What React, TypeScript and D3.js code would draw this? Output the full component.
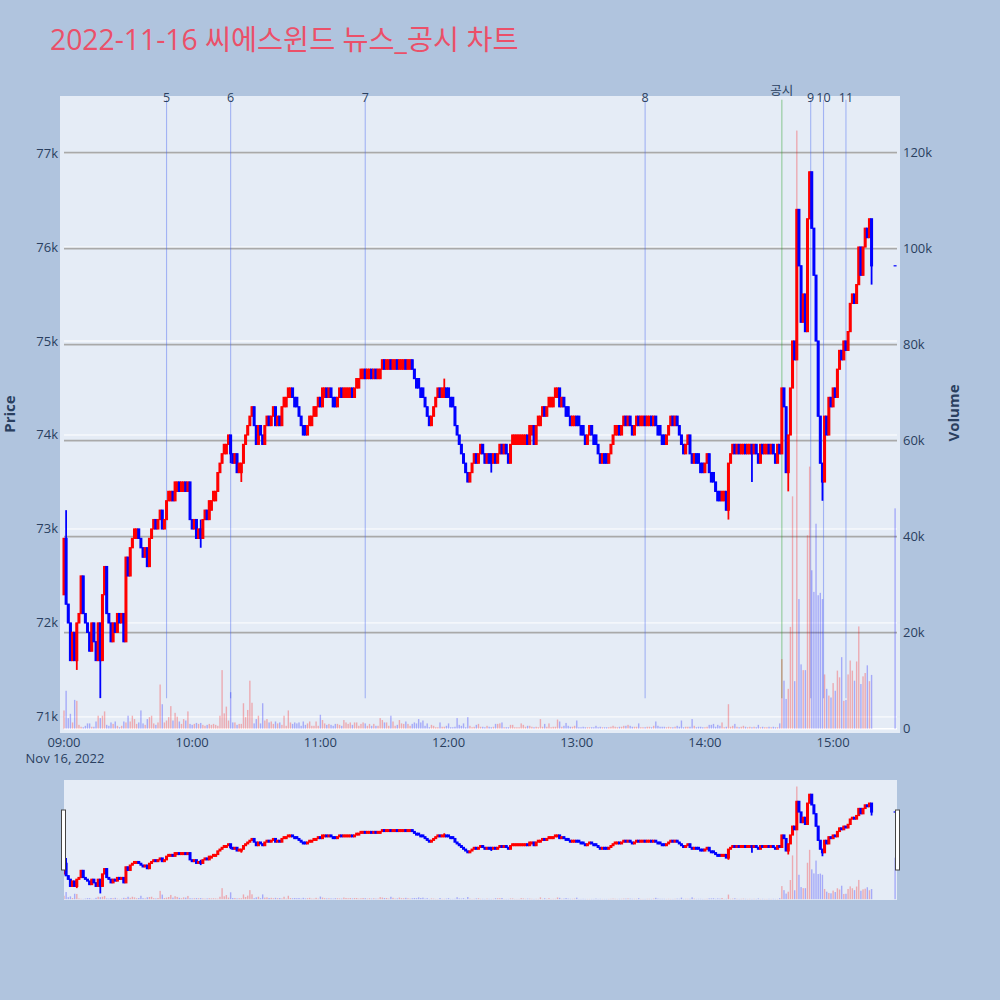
import React from "react";
import * as d3 from "d3";

const TITLE = "2022-11-16 씨에스윈드 뉴스_공시 차트";
const FIRST_OPEN = 723; // hundreds of KRW

// per-minute closes from 09:00 (hundreds of KRW)
const closes = [
  729, 722, 720, 716, 719, 716, 720, 721, 725, 721,
  720, 719, 717, 720, 718, 716, 720, 716, 723, 726,
  721, 720, 718, 720, 719, 721, 720, 721, 718, 727,
  725, 728, 729, 730, 730, 729, 728, 727, 728, 726,
  729, 730, 731, 730, 731, 732, 730, 731, 733, 734,
  734, 733, 735, 735, 734, 735, 735, 734, 735, 731,
  730, 731, 729, 730, 729, 731, 732, 731, 733, 733,
  734, 734, 736, 737, 738, 739, 739, 740, 738, 737,
  738, 736, 737, 737, 739, 740, 741, 742, 743, 741,
  739, 741, 740, 739, 741, 742, 741, 742, 743, 741,
  742, 741, 743, 744, 744, 745, 745, 744, 743, 743,
  742, 741, 740, 740, 741, 742, 742, 743, 743, 744,
  743, 745, 745, 744, 745, 744, 743, 743, 744, 745,
  744, 745, 745, 745, 745, 744, 745, 746, 746, 747,
  747, 746, 747, 747, 746, 747, 746, 747, 747, 748,
  747, 748, 748, 747, 748, 748, 747, 748, 748, 748,
  747, 748, 748, 747, 746, 745, 745, 744, 744, 743,
  742, 741, 742, 743, 744, 745, 744, 745, 745, 744,
  744, 743, 743, 741, 740, 739, 738, 737, 736, 735,
  736, 737, 738, 737, 738, 739, 738, 737, 738, 737,
  737, 738, 737, 738, 739, 738, 739, 738, 737, 739,
  740, 740, 740, 740, 740, 740, 740, 739, 741, 741,
  739, 741, 742, 742, 743, 742, 743, 744, 744, 744,
  745, 745, 743, 744, 743, 742, 742, 741, 742, 742,
  741, 741, 740, 740, 739, 740, 741, 740, 739, 739,
  738, 737, 738, 737, 737, 738, 739, 740, 741, 741,
  740, 741, 742, 741, 742, 741, 740, 741, 742, 741,
  742, 742, 741, 742, 742, 741, 742, 741, 740, 740,
  739, 739, 740, 741, 742, 741, 742, 741, 740, 739,
  738, 739, 740, 738, 737, 738, 737, 737, 736, 736,
  737, 738, 736, 735, 735, 734, 733, 733, 734, 734,
  732, 737, 738, 739, 738, 739, 738, 739, 739, 738,
  739, 739, 738, 739, 738, 737, 739, 738, 739, 739,
  738, 739, 738, 737, 739, 738, 745, 743, 736, 740,
  745, 750, 748, 764, 758, 752, 755, 751, 763, 768,
  762, 757, 750, 742, 737, 735, 742, 740, 744, 743,
  745, 744, 747, 749, 748, 750, 749, 751, 754, 755,
  754, 756, 760, 757, 760, 762, 761, 763, 758,
];

// minutes whose open differs from the previous close: [minute index, open]
const openOverrides: [number, number][] = [
  [34, 729], [50, 733], [53, 734], [56, 734], [69, 732], [71, 733], [76, 738], [83, 736],
  [104, 743], [106, 744], [109, 744], [113, 741], [116, 741], [118, 742], [122, 744], [127, 744],
  [132, 744], [133, 744], [134, 744], [138, 745], [140, 746], [143, 746], [148, 746],
  [152, 747], [155, 747], [158, 747], [159, 747], [162, 747], [166, 746], [168, 745],
  [178, 744], [180, 745], [182, 744], [200, 738],
  [211, 739], [212, 739], [213, 739], [214, 739], [215, 739], [216, 739], [219, 740],
  [223, 741], [228, 743], [229, 743], [231, 744], [236, 743], [239, 741], [241, 742],
  [243, 741], [249, 740], [254, 738], [259, 740], [271, 741], [274, 741], [279, 741],
  [281, 740], [297, 738], [299, 737], [304, 736], [307, 734], [309, 733], [318, 738],
  [320, 738], [321, 738], [329, 738],
];

// [minute index, high, low] where the wick reaches past the body (hundreds of KRW)
const wicks: [number, number, number][] = [
  [1, 732, 722], [6, 720, 715], [17, 720, 712], [64, 731, 728], [78, 740, 737],
  [83, 737, 735], [178, 746, 744], [200, 738, 736], [311, 737, 731], [322, 739, 735],
  [339, 740, 734], [343, 764, 748], [355, 737, 733], [378, 763, 756],
];

// per-minute volume from 09:00 (thousands of shares)
const volumes = [
  3.8, 7.9, 2.2, 3.1, 1.3, 6.0, 5.8, 0.8, 0.4, 0.3,
  0.6, 1.1, 1.1, 0.4, 0.4, 1.5, 2.7, 2.2, 2.7, 3.6,
  0.8, 0.6, 1.3, 1.0, 1.5, 0.6, 0.3, 0.6, 1.5, 1.3,
  2.7, 1.5, 2.7, 2.0, 1.0, 1.3, 3.8, 1.1, 0.8, 2.0,
  2.4, 2.7, 1.1, 0.8, 1.3, 9.2, 5.1, 1.3, 1.7, 2.4,
  4.7, 1.7, 3.3, 2.5, 1.5, 1.0, 2.0, 1.7, 3.6, 1.0,
  0.8, 1.0, 1.2, 1.0, 1.2, 0.8, 0.6, 0.8, 1.0, 0.8,
  1.0, 0.8, 0.6, 2.7, 12.2, 3.2, 4.6, 1.7, 7.6, 1.3,
  1.3, 0.8, 1.0, 1.0, 5.3, 2.4, 3.9, 10.0, 5.4, 1.1,
  2.0, 2.7, 1.1, 5.3, 1.7, 2.0, 1.3, 1.5, 1.0, 1.5,
  1.1, 1.3, 0.8, 2.7, 0.6, 3.8, 1.3, 1.0, 1.3, 1.1,
  1.3, 0.6, 1.5, 0.8, 1.1, 1.5, 0.6, 0.6, 1.5, 0.6,
  2.9, 1.8, 1.1, 0.8, 1.0, 0.8, 0.6, 1.0, 1.0, 0.8,
  0.6, 1.8, 1.3, 1.0, 1.3, 0.8, 1.3, 1.3, 0.6, 1.0,
  1.3, 1.1, 0.6, 1.0, 0.6, 1.0, 0.6, 0.6, 2.2, 1.8,
  1.3, 1.3, 0.6, 2.7, 1.5, 0.6, 0.8, 1.8, 1.1, 1.0,
  1.5, 1.0, 0.6, 1.0, 1.3, 1.1, 2.0,
  1.3, 1.7, 0.6, 1.1, 0.3, 0.8, 0.6, 0.3, 0.3, 1.3,
  0.4, 0.4, 0.6, 1.1, 0.3, 0.3, 0.4, 2.2, 0.8, 0.6,
  1.1, 0.3, 2.4, 0.6, 0.3, 0.4, 0.8, 1.0, 0.4, 0.4,
  0.3, 0.6, 0.4, 0.3, 0.4, 1.0, 1.0, 1.1, 1.3, 0.3,
  0.3, 0.3, 0.8, 0.8, 0.3, 0.3, 0.3, 1.1, 0.8, 0.4,
  0.6, 0.6, 0.4, 0.3, 0.4, 0.3, 2.0, 0.4, 1.0, 0.4,
  1.1, 0.3, 0.4, 0.4, 1.9, 1.5, 0.4, 0.6, 1.2, 0.6,
  0.4, 0.4, 0.6, 1.7, 0.3, 0.3, 0.4, 0.3, 0.3, 0.3,
  0.3, 0.3, 0.6, 0.3, 0.4, 0.3, 0.3, 0.3, 0.3, 0.4,
  0.6, 0.4, 0.3, 0.4, 0.4, 0.6, 0.6, 0.8, 0.6, 0.4,
  0.4, 0.4, 1.1, 0.3, 0.3, 0.3, 0.4, 0.4, 0.3, 0.6,
  1.5, 0.6, 0.4, 0.4, 0.4, 0.3, 0.4, 0.3, 0.3, 0.4,
  0.6, 0.4, 1.7, 0.3, 0.4, 0.4, 0.4, 2.0, 0.6, 0.3,
  0.4, 0.4, 0.3, 0.3, 0.4, 0.8, 0.8, 1.0, 0.4, 0.8,
  0.6, 1.3, 0.3, 0.4, 5.1, 0.4, 0.6, 1.0, 0.4, 0.3,
  0.4, 0.6, 0.4, 0.3, 0.4, 0.3, 0.4, 0.3, 0.8, 0.3,
  0.4, 0.3, 0.3, 0.4, 0.3, 0.4, 0.3, 0.3, 1.1,
  14.5, 10.0, 6.2, 8.3, 21.2, 48.4, 9.9, 124.6, 27.0, 13.4,
  12.2, 12.2, 40.3, 54.6, 33.0, 28.5, 42.7, 27.8, 28.3, 27.0,
  11.3, 8.3, 6.9, 6.5, 9.5, 7.9, 12.1, 10.7, 14.9, 5.8,
  6.0, 11.3, 14.2, 12.1, 10.0, 14.0, 21.3, 9.3, 10.9, 11.6,
  13.2, 9.9, 11.2,
];

// closing auction print
const auctionTime = "15:29";
const auctionPrice = 758;
const auctionVolume = 45.9;

// news / disclosure markers
const eventLabels = ["5", "6", "7", "8", "공시", "9", "10", "11"];
const eventTimes = ["09:48", "10:18", "11:21", "13:32", "14:36", "14:49:30", "14:55:30", "15:06"];
const eventKinds = ["news", "news", "news", "news", "disclosure", "news", "news", "news"];

const priceTicks = [71000, 72000, 73000, 74000, 75000, 76000, 77000];
const volumeTicks = [0, 20000, 40000, 60000, 80000, 100000, 120000];
const timeTicks = ["09:00", "10:00", "11:00", "12:00", "13:00", "14:00", "15:00"];
const dateLabel = "Nov 16, 2022";

const FONT = '"Open Sans", "Noto Sans CJK KR", "Noto Sans", sans-serif';
const TEXT = "#2a3f5f";

function at(hms: string) {
  const [h, m, s] = hms.split(":").map(Number);
  return new Date(2022, 10, 16, h, m, s || 0);
}

type Candle = { t: Date; o: number; h: number; l: number; c: number; v: number; up: boolean };

function buildCandles(): Candle[] {
  const out: Candle[] = [];
  let prevUp = true;
  closes.forEach((c, i) => {
    const ov = openOverrides.find((k) => k[0] === i);
    const o = ov ? ov[1] : i === 0 ? FIRST_OPEN : closes[i - 1];
    let h = Math.max(o, c);
    let l = Math.min(o, c);
    const w = wicks.find((k) => k[0] === i);
    if (w) {
      h = Math.max(h, w[1]);
      l = Math.min(l, w[2]);
    }
    const up = c > o ? true : c < o ? false : prevUp;
    prevUp = up;
    out.push({ t: new Date(2022, 10, 16, 9, i), o: o * 100, h: h * 100, l: l * 100, c: c * 100, v: volumes[i] * 1000, up });
  });
  out.push({
    t: at(auctionTime), o: auctionPrice * 100, h: auctionPrice * 100, l: auctionPrice * 100,
    c: auctionPrice * 100, v: auctionVolume * 1000, up: false,
  });
  return out;
}

const fmtK = (v: number) => (v === 0 ? "0" : `${v / 1000}k`);

export default function App() {
  const plot = { left: 60, right: 900, top: 96, bottom: 733 };
  const lineL = 64;
  const lineR = 897;
  const sl = { left: 64, right: 897, top: 780, bottom: 900 };

  const candles = buildCandles();

  const x = d3.scaleTime().domain([at("08:58:08"), at("15:31:18")]).range([plot.left, plot.right]);
  const pDomain: [number, number] = [70829, 77607];
  const vDomain: [number, number] = [-900, 131800];
  const yP = d3.scaleLinear().domain(pDomain).range([plot.bottom, plot.top]);
  const yV = d3.scaleLinear().domain(vDomain).range([plot.bottom, plot.top]);
  const yPs = d3.scaleLinear().domain(pDomain).range([sl.bottom, sl.top]);
  const yVs = d3.scaleLinear().domain(vDomain).range([sl.bottom, sl.top]);

  const maxHigh = d3.max(candles, (d) => d.h) as number;
  const minLow = d3.min(candles, (d) => d.l) as number;
  const evTop = yP(maxHigh * 1.01);
  const evBottom = yP(minLow);

  const upCol = "#ff0000";
  const dnCol = "#0000ff";
  const upVol = "rgba(255,0,0,0.28)";
  const dnVol = "rgba(0,0,255,0.28)";

  const bodyW = 1.8;
  const barW = 1.4;

  const drawCandles = (yS: d3.ScaleLinear<number, number>, key: string) =>
    candles.map((d, i) => {
      const cx = x(d.t);
      const col = d.up ? upCol : dnCol;
      const top = yS(Math.max(d.o, d.c));
      const bot = yS(Math.min(d.o, d.c));
      return (
        <g key={key + i}>
          <line x1={cx} x2={cx} y1={yS(d.h)} y2={yS(d.l)} stroke={col} strokeWidth={1.8} />
          <rect x={cx - bodyW / 2} width={bodyW} y={top} height={Math.max(0.01, bot - top)}
            fill={col} stroke={col} strokeWidth={1.2} />
        </g>
      );
    });

  return (
    <div style={{ position: "absolute", left: 0, top: 0, width: 1000, height: 1000 }}>
      <svg width={1000} height={1000} style={{ display: "block", fontFamily: FONT }}>
        <defs>
          <clipPath id="plotClip">
            <rect x={plot.left} y={plot.top} width={plot.right - plot.left} height={plot.bottom - plot.top} />
          </clipPath>
          <clipPath id="sliderClip">
            <rect x={sl.left} y={sl.top} width={sl.right - sl.left} height={sl.bottom - sl.top} />
          </clipPath>
        </defs>
        <rect x={0} y={0} width={1000} height={1000} fill="#b0c4de" />
        <text x={50} y={50} fontSize={28.3} fill="#eb5069">{TITLE}</text>

        {/* main plot */}
        <rect x={plot.left} y={plot.top} width={plot.right - plot.left} height={plot.bottom - plot.top} fill="#e5ecf6" />
        {priceTicks.map((p) => (
          <line key={"pg" + p} x1={lineL} x2={lineR} y1={yP(p)} y2={yP(p)} stroke="#ffffff" strokeWidth={1} />
        ))}
        <line x1={lineL} x2={lineR} y1={yV(0)} y2={yV(0)} stroke="#ffffff" strokeWidth={1.5} />
        {volumeTicks.filter((v) => v > 0).map((v) => (
          <line key={"vg" + v} x1={lineL} x2={lineR} y1={yV(v)} y2={yV(v)} stroke="#a9a9a9" strokeWidth={1.6} />
        ))}

        {eventTimes.map((tm, i) => {
          const ex = x(at(tm));
          const disc = eventKinds[i] === "disclosure";
          return (
            <g key={"ev" + i}>
              <line x1={ex} x2={ex} y1={evTop} y2={evBottom}
                stroke={disc ? "rgba(40,160,40,0.45)" : "rgba(70,100,240,0.42)"} strokeWidth={1.1} />
              <text x={ex} y={disc ? evTop - 5 : evTop + 2.5} fontSize={12.5} fill={TEXT} textAnchor="middle">
                {eventLabels[i]}
              </text>
            </g>
          );
        })}

        <g clipPath="url(#plotClip)">
          {candles.map((d, i) => (
            <rect key={"v" + i} x={x(d.t) - barW / 2} width={barW} y={yV(d.v)} height={Math.max(0, yV(0) - yV(d.v))}
              fill={d.up ? upVol : dnVol} />
          ))}
          {drawCandles(yP, "c")}
        </g>

        {/* axes labels */}
        {priceTicks.map((p) => (
          <text key={"pt" + p} x={58} y={yP(p) + 4.5} fontSize={13} fill={TEXT} textAnchor="end">{fmtK(p)}</text>
        ))}
        {volumeTicks.map((v) => (
          <text key={"vt" + v} x={903} y={yV(v) + 4.5} fontSize={13} fill={TEXT} textAnchor="start">{fmtK(v)}</text>
        ))}
        {timeTicks.map((tk) => (
          <text key={"tt" + tk} x={x(at(tk))} y={747} fontSize={13} fill={TEXT} textAnchor="middle">{tk}</text>
        ))}
        <text x={x(at(timeTicks[0])) + 1} y={763} fontSize={13} fill={TEXT} textAnchor="middle">{dateLabel}</text>
        <text transform="translate(15,414) rotate(-90)" fontSize={15} fontWeight="bold" fill={TEXT} textAnchor="middle">Price</text>
        <text transform="translate(959,413) rotate(-90)" fontSize={15} fontWeight="bold" fill={TEXT} textAnchor="middle">Volume</text>

        {/* range slider */}
        <rect x={sl.left} y={sl.top} width={sl.right - sl.left} height={sl.bottom - sl.top} fill="#e5ecf6" />
        <g clipPath="url(#sliderClip)">
          {candles.map((d, i) => (
            <rect key={"sv" + i} x={x(d.t) - barW / 2} width={barW} y={yVs(d.v)} height={Math.max(0, yVs(0) - yVs(d.v))}
              fill={d.up ? upVol : dnVol} />
          ))}
          {drawCandles(yPs, "sc")}
        </g>
        <rect x={61.5} y={810} width={4} height={60} fill="#ffffff" stroke="#444" strokeWidth={1} />
        <rect x={895.5} y={810} width={4} height={60} fill="#ffffff" stroke="#444" strokeWidth={1} />
      </svg>
    </div>
  );
}
